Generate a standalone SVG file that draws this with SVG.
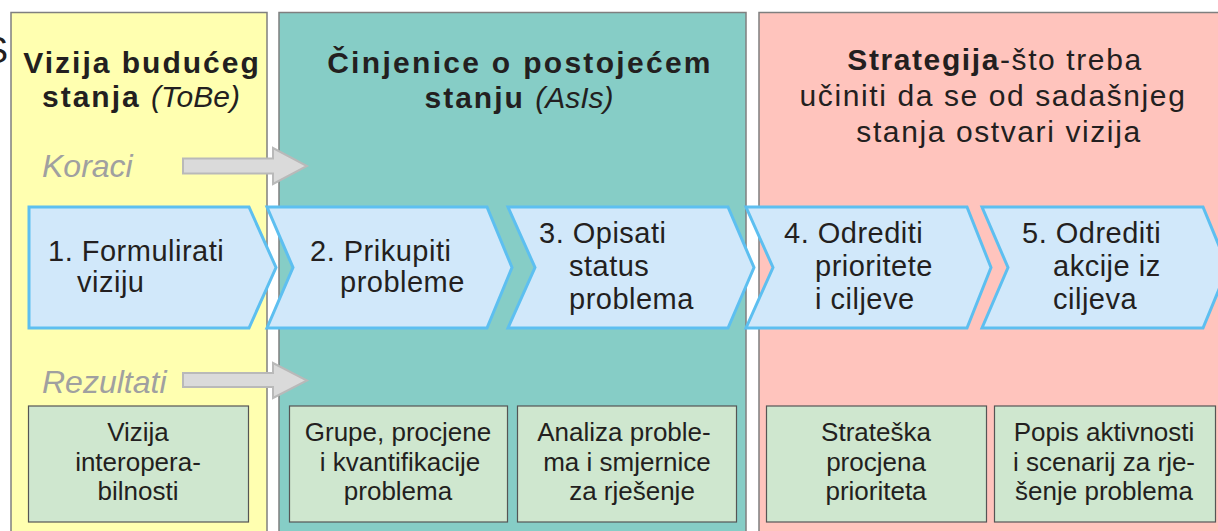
<svg xmlns="http://www.w3.org/2000/svg" width="1218" height="531" viewBox="0 0 1218 531">
<style>
text{font-family:"Liberation Sans",Arial,sans-serif;fill:#231f20}
.panel{stroke:#7f7f7f;stroke-width:1.5}
.title{font-size:30px;font-weight:bold;letter-spacing:2px}
.ital{font-style:italic;font-weight:normal;letter-spacing:0}
.rt{font-size:30px;letter-spacing:1.6px}
.chev{fill:#d1e8fa;stroke:#5dbff0;stroke-width:3;stroke-linejoin:miter}
.ct{font-size:29px;letter-spacing:0.5px}
.box{fill:#cfe7cf;stroke:#555;stroke-width:1.2}
.bt{font-size:26px;text-anchor:middle}
.lab{font-size:32px;font-style:italic;fill:#a0a0a0}
.garrow{fill:#dadada;stroke:#b9b9b9;stroke-width:2}
</style>
<rect width="1218" height="531" fill="#ffffff"/>
<text x="-16" y="63" style="font-size:36px">S</text>
<g id="panel-tobe">
<rect class="panel" x="11" y="12.5" width="256" height="530" fill="#ffffb0"/>
<text class="title" x="142" y="73" text-anchor="middle">Vizija budućeg</text>
<text class="title" x="141" y="107" text-anchor="middle">stanja <tspan class="ital">(ToBe)</tspan></text>
</g>
<g id="panel-asis">
<rect class="panel" x="279" y="12.5" width="467" height="530" fill="#86cdc6"/>
<text class="title" x="520" y="73" text-anchor="middle" style="letter-spacing:2.3px">Činjenice o postojećem</text>
<text class="title" x="519" y="108" text-anchor="middle">stanju <tspan class="ital">(AsIs)</tspan></text>
</g>
<g id="panel-strategija">
<rect class="panel" x="759" y="12.5" width="470" height="530" fill="#ffc4bd"/>
<text class="rt" x="995" y="70" text-anchor="middle"><tspan font-weight="bold">Strategija</tspan>-što treba</text>
<text class="rt" x="993" y="106" text-anchor="middle">učiniti da se od sadašnjeg</text>
<text class="rt" x="999" y="142" text-anchor="middle">stanja ostvari vizija</text>
</g>
<g id="label-koraci">
<text class="lab" x="42" y="177">Koraci</text>
</g>
<g id="label-rezultati">
<text class="lab" x="42" y="393">Rezultati</text>
</g>
<g id="connectors">
<polygon class="garrow" points="183,158.5 273,158.5 273,148 307,166 273,184 273,173.5 183,173.5"/>
<polygon class="garrow" points="183,373 273,373 273,363 307,380.5 273,398 273,387 183,387"/>
</g>
<g id="step1">
<polygon class="chev" points="29,207 249,207 276,267.5 249,328 29,328"/>
<text class="ct" x="48" y="261">1. Formulirati</text>
<text class="ct" x="77" y="292">viziju</text>
</g>
<g id="step2">
<polygon class="chev" points="267,207 487,207 512,267.5 487,328 267,328 293,267.5"/>
<text class="ct" x="310" y="261">2. Prikupiti</text>
<text class="ct" x="340" y="292">probleme</text>
</g>
<g id="step3">
<polygon class="chev" points="508,207 728,207 754,267.5 728,328 508,328 535,267.5"/>
<text class="ct" x="539" y="243">3. Opisati</text>
<text class="ct" x="569" y="276">status</text>
<text class="ct" x="569" y="309">problema</text>
</g>
<g id="step4">
<polygon class="chev" points="746,207 967,207 991,267.5 967,328 746,328 773,267.5"/>
<text class="ct" x="784" y="243">4. Odrediti</text>
<text class="ct" x="815" y="276">prioritete</text>
<text class="ct" x="815" y="309">i ciljeve</text>
</g>
<g id="step5">
<polygon class="chev" points="982,207 1203,207 1228,267.5 1203,328 982,328 1008,267.5"/>
<text class="ct" x="1022" y="243">5. Odrediti</text>
<text class="ct" x="1053" y="276">akcije iz</text>
<text class="ct" x="1053" y="309">ciljeva</text>
</g>
<g id="result1">
<rect class="box" x="28.5" y="406" width="220" height="116"/>
<text class="bt" x="138" y="441">Vizija</text>
<text class="bt" x="138" y="471">interopera-</text>
<text class="bt" x="138" y="500">bilnosti</text>
</g>
<g id="result2">
<rect class="box" x="289.5" y="406" width="218" height="116"/>
<text class="bt" x="398" y="441">Grupe, procjene</text>
<text class="bt" x="400" y="471">i kvantifikacije</text>
<text class="bt" x="398" y="500">problema</text>
</g>
<g id="result3">
<rect class="box" x="517.5" y="406" width="219" height="116"/>
<text class="bt" x="624" y="441">Analiza proble-</text>
<text class="bt" x="627" y="471">ma i smjernice</text>
<text class="bt" x="632" y="500">za rješenje</text>
</g>
<g id="result4">
<rect class="box" x="766.5" y="406" width="220" height="116"/>
<text class="bt" x="876" y="441">Strateška</text>
<text class="bt" x="876" y="471">procjena</text>
<text class="bt" x="876" y="500">prioriteta</text>
</g>
<g id="result5">
<rect class="box" x="994.5" y="406" width="221" height="116"/>
<text class="bt" x="1104" y="441">Popis aktivnosti</text>
<text class="bt" x="1104" y="471">i scenarij za rje-</text>
<text class="bt" x="1104" y="500">šenje problema</text>
</g>
</svg>
